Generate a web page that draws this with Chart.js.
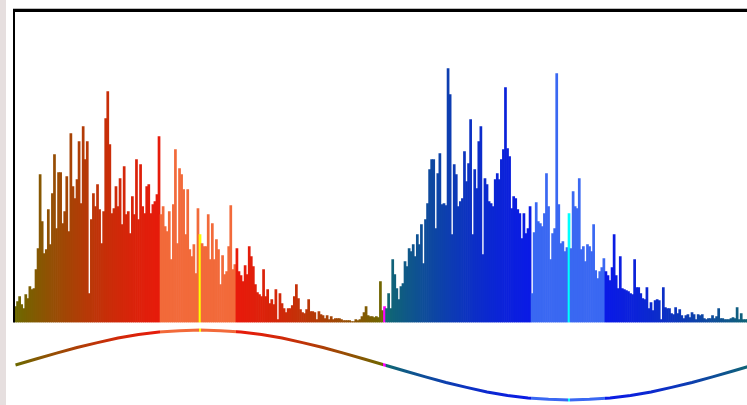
<!DOCTYPE html>
<html>
<head>
<meta charset="utf-8">
<title>Hue histogram</title>
<script src="https://cdn.jsdelivr.net/npm/chart.js@4.4.1/dist/chart.umd.min.js"></script>
<style>
  html, body { margin: 0; padding: 0; background: #fff; }
  body { width: 747px; height: 405px; overflow: hidden; position: relative; }
  #edge { position: absolute; left: 0; top: 0; width: 6px; height: 405px; background: #e6dfdf; }
  #histo { position: absolute; left: 0; top: 0; }
  #wave { position: absolute; left: 0; top: 322px; }
</style>
</head>
<body>
<div id="edge"></div>
<canvas id="histo" width="756" height="330"></canvas>
<canvas id="wave" width="756" height="83"></canvas>
<script>
// hue bins 0..359
const bins = Array.from({ length: 360 }, (_, i) => String(i));

// pixel count per hue bin
const counts = [
  16, 21, 26, 18, 14, 28, 24, 36, 33, 34,
  53, 74, 148, 101, 69, 73, 113, 78, 129, 168,
  94, 150, 150, 99, 111, 146, 91, 189, 136, 124,
  143, 181, 119, 196, 163, 181, 29, 103, 129, 116,
  138, 113, 79, 111, 204, 231, 178, 109, 114, 136,
  116, 144, 98, 156, 108, 111, 89, 126, 108, 163,
  103, 158, 116, 109, 136, 138, 109, 118, 121, 128,
  186, 108, 116, 96, 91, 111, 63, 118, 173, 79,
  154, 148, 133, 88, 133, 73, 66, 78, 49, 114,
  88, 79, 76, 76, 108, 63, 99, 63, 83, 73,
  38, 67, 48, 51, 76, 117, 53, 58, 74, 51,
  47, 41, 57, 48, 76, 66, 56, 38, 30, 28,
  26, 53, 26, 33, 19, 23, 18, 33, 3, 29,
  19, 14, 10, 14, 14, 17, 26, 38, 24, 13,
  10, 9, 13, 23, 11, 11, 10, 3, 11, 8,
  7, 4, 7, 3, 6, 3, 4, 4, 4, 3,
  2, 2, 2, 2, 1, 1, 3, 2, 3, 6,
  10, 16, 7, 6, 6, 5, 6, 5, 41, 12,
  16, 14, 29, 14, 63, 48, 34, 23, 36, 39,
  61, 56, 74, 71, 78, 66, 88, 78, 98, 59,
  103, 119, 153, 163, 163, 94, 149, 169, 118, 119,
  117, 254, 228, 88, 158, 148, 116, 121, 124, 171,
  141, 159, 203, 88, 153, 134, 181, 196, 68, 144,
  138, 121, 119, 116, 143, 149, 143, 163, 173, 235,
  174, 166, 114, 126, 124, 113, 109, 84, 109, 89,
  94, 116, 29, 90, 120, 101, 99, 96, 109, 149,
  116, 63, 89, 94, 249, 118, 79, 81, 71, 75,
  109, 74, 131, 116, 114, 144, 73, 76, 61, 78,
  76, 71, 98, 52, 44, 51, 55, 64, 51, 47,
  42, 55, 88, 47, 34, 66, 34, 33, 32, 31,
  29, 28, 63, 35, 35, 29, 24, 23, 35, 14,
  20, 12, 22, 23, 22, 3, 35, 15, 14, 14,
  9, 8, 15, 9, 13, 7, 4, 7, 8, 5,
  10, 8, 3, 8, 7, 8, 4, 3, 4, 4,
  7, 4, 6, 14, 4, 4, 3, 3, 3, 4,
  5, 4, 15, 3, 9, 3, 3, 3, 3, 3
];

// warm/cool balance curve, sampled every 10 bins
const waveBins = [0, 10, 20, 30, 40, 50, 60, 70, 80, 90, 100, 110, 120, 130, 140, 150, 160, 170, 180,
  190, 200, 210, 220, 230, 240, 250, 260, 270, 280, 290, 300, 310, 320, 330, 340, 350, 360];
const waveLevels = [0, 0.17, 0.34, 0.5, 0.64, 0.77, 0.87, 0.94, 0.98, 1, 0.98, 0.94, 0.87, 0.77, 0.64, 0.5, 0.34, 0.17, 0,
  -0.17, -0.34, -0.5, -0.64, -0.77, -0.87, -0.94, -0.98, -1, -0.98, -0.94, -0.87, -0.77, -0.64, -0.5, -0.34, -0.17, 0];

// selected ranges and marker bins
const warmRange = [71, 107];
const coolRange = [252, 287];
const markers = { 90: '#ffff00', 180: '#ff00ff', 270: '#00ffff' };

const OLIVE = [108, 104, 0];
const RED = [238, 22, 12];
const TEAL = [16, 104, 112];
const BLUE = [10, 22, 236];

function mix(a, b, t) {
  const c = a.map((v, k) => Math.round(v + (b[k] - v) * t));
  return `rgb(${c[0]},${c[1]},${c[2]})`;
}

// weight toward the saturated end rises fast, then flattens near the centre
function ease(d) {
  return Math.sin((1 - d / 90) * Math.PI / 2);
}

function binColor(i) {
  if (markers[i]) return markers[i];
  if (i >= warmRange[0] && i <= warmRange[1]) return '#f26a3a';
  if (i >= coolRange[0] && i <= coolRange[1]) return '#3a68f2';
  if (i < 180) return mix(OLIVE, RED, ease(Math.abs(i - 90)));
  return mix(TEAL, BLUE, ease(Math.abs(i - 270)));
}

// frame: heavy top rule and left rule
const framePlugin = {
  id: 'frame',
  afterDatasetsDraw(chart) {
    const { ctx, chartArea: a } = chart;
    ctx.save();
    ctx.fillStyle = '#bdbdbd';
    ctx.fillRect(a.left - 1.5, 8, chart.width, 1);
    ctx.fillStyle = '#000';
    ctx.fillRect(a.left - 1.5, 9, chart.width, 3);
    ctx.fillRect(a.left - 1.5, 9, 2, a.bottom - 9);
    ctx.restore();
  }
};

new Chart(document.getElementById('histo'), {
  type: 'bar',
  data: {
    labels: bins,
    datasets: [{
      data: counts,
      backgroundColor: bins.map((_, i) => binColor(i)),
      borderWidth: 0,
      barPercentage: 1,
      categoryPercentage: 1
    }]
  },
  options: {
    responsive: false,
    animation: false,
    layout: { padding: { left: 14.5, right: 3.5, top: 12, bottom: 7.5 } },
    plugins: { legend: { display: false }, tooltip: { enabled: false } },
    scales: {
      x: { display: false },
      y: { display: false, min: 0, max: 310.5 }
    }
  },
  plugins: [framePlugin]
});

// horizontal gradient that follows the bin colours
function waveStroke(context) {
  const chart = context.chart;
  const a = chart.chartArea;
  if (!a) return '#888';
  const g = chart.ctx.createLinearGradient(a.left, 0, a.right, 0);
  for (let i = 0; i < 360; i++) {
    const c = binColor(i);
    g.addColorStop(i / 360, c);
    g.addColorStop((i + 1) / 360 - 0.0001, c);
  }
  return g;
}

new Chart(document.getElementById('wave'), {
  type: 'line',
  data: {
    datasets: [{
      data: waveBins.map((b, k) => ({ x: b, y: waveLevels[k] })),
      borderColor: waveStroke,
      borderWidth: 3,
      pointRadius: 0,
      tension: 0,
      fill: false,
      clip: false
    }]
  },
  options: {
    responsive: false,
    animation: false,
    layout: { padding: { left: 14.5, right: 3.5, top: 8, bottom: 5 } },
    plugins: { legend: { display: false }, tooltip: { enabled: false } },
    scales: {
      x: { type: 'linear', display: false, min: -0.5, max: 359.5 },
      y: { display: false, min: -1, max: 1 }
    }
  }
});
</script>
</body>
</html>
